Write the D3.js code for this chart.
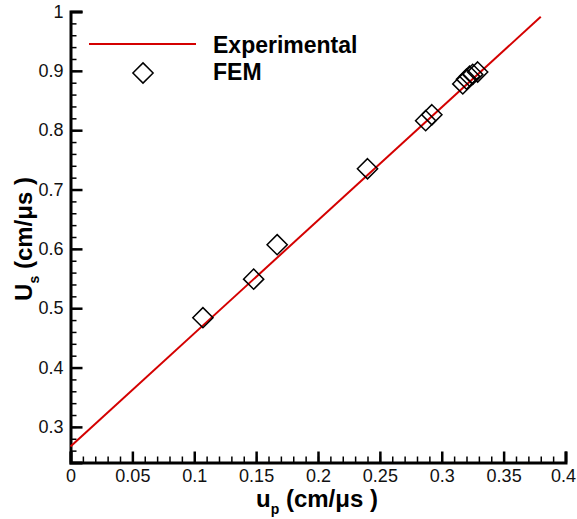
<!DOCTYPE html>
<html><head><meta charset="utf-8">
<script src="https://cdn.jsdelivr.net/npm/d3@7"></script>
<style>body{margin:0;background:#fff}svg{display:block}</style>
</head><body>
<script>
const femUp = [0.107, 0.148, 0.167, 0.240, 0.287, 0.292, 0.317, 0.320, 0.3225, 0.325, 0.329];
const femUs = [0.484, 0.549, 0.607, 0.735, 0.816, 0.826, 0.878, 0.886, 0.891, 0.894, 0.898];
const expUp = [0, 0.38];
const expUs = [0.267, 0.991];
const xTicks = [0, 0.05, 0.1, 0.15, 0.2, 0.25, 0.3, 0.35, 0.4];
const yTicks = [0.3, 0.4, 0.5, 0.6, 0.7, 0.8, 0.9, 1];
const legendLabels = ["Experimental", "FEM"];

const W = 577, H = 519;
const svg = d3.select("body").append("svg").attr("width", W).attr("height", H);
const x = d3.scaleLinear().domain([0, 0.4]).range([70.5, 565.5]);
const y = d3.scaleLinear().domain([0.24, 1]).range([462.5, 11.5]);
const font = "Arial, 'Liberation Sans', sans-serif";

// minor ticks
const xMinor = d3.range(0, 0.4001, 0.01);
const yMinor = d3.range(0.24, 1.0001, 0.02);
const gx = svg.append("g").attr("transform", `translate(0,${y(0.24)})`);
gx.call(d3.axisBottom(x).tickValues(xMinor).tickSize(-6).tickFormat(""));
gx.call(g => g.selectAll(".domain").remove());
const gx2 = svg.append("g").attr("transform", `translate(0,${y(0.24)})`);
gx2.call(d3.axisBottom(x).tickValues(xTicks).tickSize(-11).tickPadding(7).tickFormat(d => d3.format("")(d)));
gx.selectAll("line").attr("stroke", "#000").attr("stroke-width", 1.5);
gx2.selectAll("line").attr("stroke", "#000").attr("stroke-width", 2.5);
gx2.select(".domain").attr("stroke", "#000").attr("stroke-width", 3);
gx2.selectAll("text").attr("font-family", font).attr("font-size", 18).attr("fill", "#111");
gx2.selectAll("text").filter(d => d === 0.4).attr("text-anchor", "end").attr("dx", 10);

const gy = svg.append("g").attr("transform", `translate(${x(0)},0)`);
gy.call(d3.axisLeft(y).tickValues(yMinor).tickSize(-6).tickFormat(""));
gy.call(g => g.selectAll(".domain").remove());
const gy2 = svg.append("g").attr("transform", `translate(${x(0)},0)`);
gy2.call(d3.axisLeft(y).tickValues(yTicks).tickSize(-12).tickPadding(7).tickFormat(d => d3.format("")(d)));
gy.selectAll("line").attr("stroke", "#000").attr("stroke-width", 1.5);
gy2.selectAll("line").attr("stroke", "#000").attr("stroke-width", 2.5);
gy2.select(".domain").attr("stroke", "#000").attr("stroke-width", 3);
gy2.selectAll("text").attr("font-family", font).attr("font-size", 18).attr("fill", "#111");

// experimental line
svg.append("path")
  .datum(expUp.map((u, i) => [u, expUs[i]]))
  .attr("fill", "none").attr("stroke", "#d40000").attr("stroke-width", 2)
  .attr("d", d3.line().x(d => x(d[0])).y(d => y(d[1])));

// FEM diamonds
const diamond = d3.symbol().type(d3.symbolDiamond2).size(260);
svg.selectAll(".fem").data(femUp.map((u, i) => [u, femUs[i]])).join("path")
  .attr("class", "fem")
  .attr("transform", d => `translate(${x(d[0])},${y(d[1])})`)
  .attr("d", diamond).attr("fill", "none").attr("stroke", "#000").attr("stroke-width", 1.5);

// legend
svg.append("line").attr("x1", 89).attr("x2", 196).attr("y1", 44).attr("y2", 44)
  .attr("stroke", "#d40000").attr("stroke-width", 2);
svg.append("path").attr("transform", "translate(143,73)").attr("d", diamond)
  .attr("fill", "none").attr("stroke", "#000").attr("stroke-width", 1.5);
svg.append("text").attr("x", 213).attr("y", 53).text(legendLabels[0])
  .attr("font-family", font).attr("font-size", 23).attr("font-weight", "bold");
svg.append("text").attr("x", 213).attr("y", 80).text(legendLabels[1])
  .attr("font-family", font).attr("font-size", 23).attr("font-weight", "bold");

// axis titles
const xt = svg.append("text").attr("x", 317).attr("y", 507).attr("text-anchor", "middle")
  .attr("font-family", font).attr("font-size", 24).attr("font-weight", "bold");
xt.append("tspan").text("u");
xt.append("tspan").text("p").attr("font-size", 14).attr("dy", 7);
xt.append("tspan").text(" (cm/μs )").attr("dy", -7);

const yt = svg.append("text").attr("transform", "translate(32,239) rotate(-90)").attr("text-anchor", "middle")
  .attr("font-family", font).attr("font-size", 24).attr("font-weight", "bold");
yt.append("tspan").text("U");
yt.append("tspan").text("s").attr("font-size", 14).attr("dy", 7);
yt.append("tspan").text(" (cm/μs )").attr("dy", -7);
</script>
</body></html>
